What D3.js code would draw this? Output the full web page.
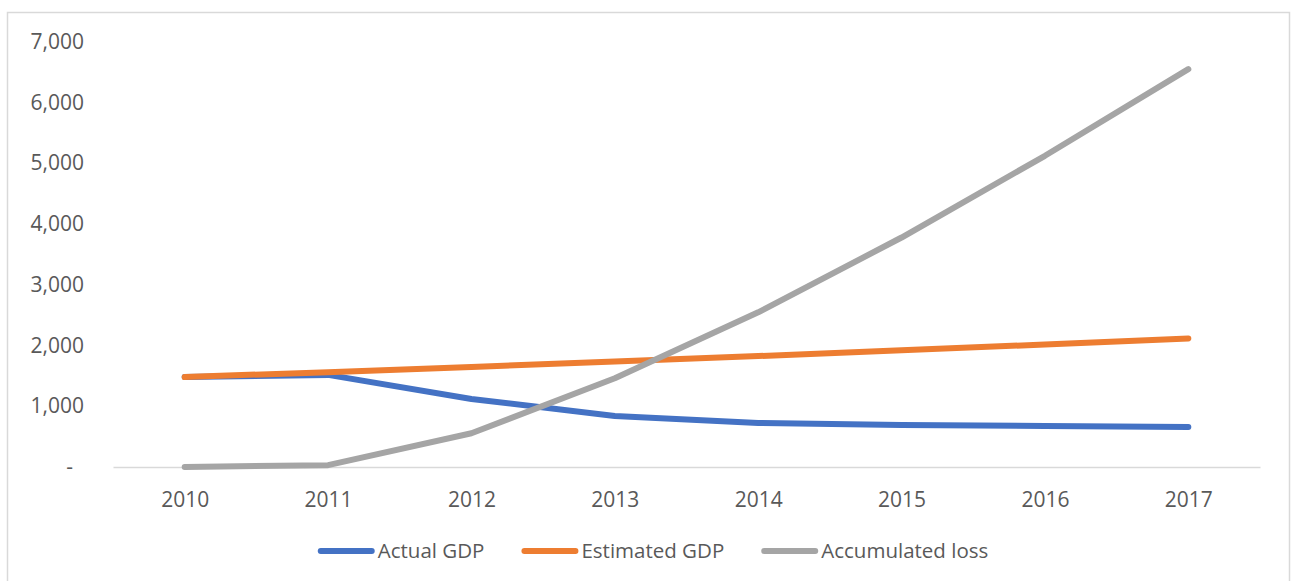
<!DOCTYPE html>
<html>
<head>
<meta charset="utf-8">
<script src="https://cdn.jsdelivr.net/npm/d3@7"></script>
<style>
  body { margin: 0; background: #fff; }
  svg { display: block; }
</style>
</head>
<body>
<div id="chart"></div>
<script>
var years = ["2010", "2011", "2012", "2013", "2014", "2015", "2016", "2017"];
var actualGdp = [1480, 1515, 1120, 840, 725, 690, 675, 660];
var estimatedGdp = [1480, 1560, 1645, 1735, 1825, 1920, 2015, 2115];
var accumulatedLoss = [0, 30, 555, 1460, 2545, 3775, 5120, 6545];
var yTicks = [0, 1000, 2000, 3000, 4000, 5000, 6000, 7000];
var seriesNames = ["Actual GDP", "Estimated GDP", "Accumulated loss"];
var seriesColors = ["#4472C4", "#ED7D31", "#A5A5A5"];

var width = 1296, height = 581;
var fontFamily = "'Open Sans', 'DejaVu Sans', sans-serif";
var textColor = "#595959";

var series = [actualGdp, estimatedGdp, accumulatedLoss].map(function (values, i) {
    return { name: seriesNames[i], color: seriesColors[i], values: values };
});

var svg = d3.select("#chart")
    .append("svg")
    .attr("width", width)
    .attr("height", height);

// chart frame
svg.append("rect")
    .attr("x", 7.5)
    .attr("y", 12.5)
    .attr("width", 1282)
    .attr("height", 580)
    .attr("fill", "#fff")
    .attr("stroke", "#d9d9d9")
    .attr("stroke-width", 1.5);

var plot = { left: 113, right: 1260, top: 41.5, bottom: 467 };

var x = d3.scalePoint()
    .domain(years)
    .range([plot.left, plot.right])
    .padding(0.5);

var y = d3.scaleLinear()
    .domain([0, 7000])
    .range([plot.bottom, plot.top]);

// y axis labels only
var yAxis = svg.append("g")
    .attr("transform", "translate(" + plot.left + ",0)")
    .call(d3.axisLeft(y)
        .tickValues(yTicks)
        .tickSize(0)
        .tickPadding(29)
        .tickFormat(function (d) { return d === 0 ? "-" : d3.format(",")(d); }));
yAxis.select(".domain").remove();
yAxis.selectAll("text")
    .attr("fill", textColor)
    .style("font-family", fontFamily)
    .style("font-size", "21px")
    .attr("x", function (d) { return d === 0 ? -40 : -29; });

// x axis with baseline
var xAxis = svg.append("g")
    .attr("transform", "translate(0," + plot.bottom + ")")
    .call(d3.axisBottom(x).tickSize(0).tickPadding(25).tickSizeOuter(0));
xAxis.select(".domain")
    .attr("stroke", "#d9d9d9")
    .attr("stroke-width", 1.5);
xAxis.selectAll("text")
    .attr("fill", textColor)
    .style("font-family", fontFamily)
    .style("font-size", "21px");

var line = d3.line()
    .x(function (d, i) { return x(years[i]); })
    .y(function (d) { return y(d); });

svg.selectAll(".series")
    .data(series)
    .enter().append("path")
    .attr("class", "series")
    .attr("d", function (d) { return line(d.values); })
    .attr("fill", "none")
    .attr("stroke", function (d) { return d.color; })
    .attr("stroke-width", 6)
    .attr("stroke-linecap", "round")
    .attr("stroke-linejoin", "round");

// legend
var legendY = 551, sampleLen = 57, textGap = 3, itemGap = 37;
var legend = svg.append("g");
var items = legend.selectAll(".item")
    .data(series)
    .enter().append("g")
    .attr("class", "item");

items.append("line")
    .attr("x1", 3).attr("x2", sampleLen - 3)
    .attr("y1", 0).attr("y2", 0)
    .attr("stroke", function (d) { return d.color; })
    .attr("stroke-width", 6)
    .attr("stroke-linecap", "round");

items.append("text")
    .attr("x", sampleLen + textGap)
    .attr("dy", "0.35em")
    .attr("fill", textColor)
    .style("font-family", fontFamily)
    .style("font-size", "20.5px")
    .text(function (d) { return d.name; });

var offsets = [], total = 0;
items.each(function (d, i) {
    var w = sampleLen + textGap + this.querySelector("text").getComputedTextLength();
    offsets.push(total);
    total += w + (i < series.length - 1 ? itemGap : 0);
});
var legendStart = 653 - total / 2;
items.attr("transform", function (d, i) {
    return "translate(" + (legendStart + offsets[i]) + "," + legendY + ")";
});
</script>
</body>
</html>
